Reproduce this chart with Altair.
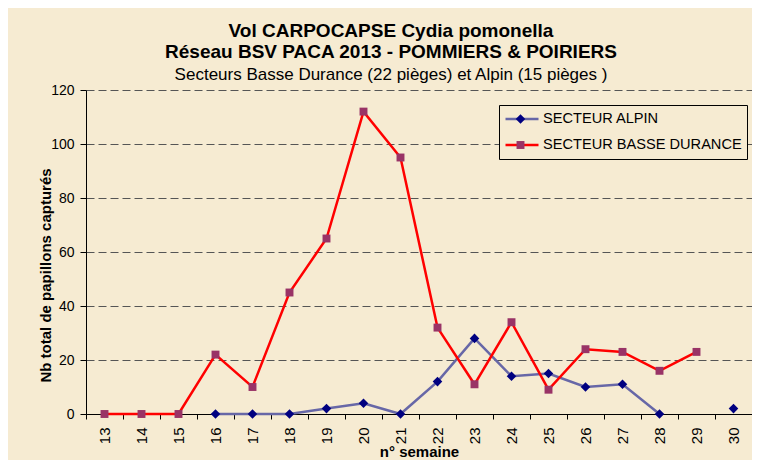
import altair as alt
import pandas as pd

# ---- data ----
weeks = list(range(13, 31))
alpin = [None, None, None, 0, 0, 0, 2, 4, 0, 12, 28, 14, 15, 10, 11, 0, None, 2]
basse_durance = [0, 0, 0, 22, 10, 45, 65, 112, 95, 32, 11, 34, 9, 24, 23, 16, 23, None]
series_names = ["SECTEUR ALPIN", "SECTEUR BASSE DURANCE"]
y_ticks = [0, 20, 40, 60, 80, 100, 120]

# ---- styles ----
line_colors = ["#6767A7", "#FF0000"]
marker_colors = ["#000080", "#993366"]
marker_paths = ["M0,-0.29L0.29,0L0,0.29L-0.29,0Z", "M-0.24,-0.24H0.24V0.24H-0.24Z"]
FONT = "Liberation Sans"
BG = "#F6EBD2"

rows = []
for name, vals in zip(series_names, [alpin, basse_durance]):
    for w, v in zip(weeks, vals):
        rows.append({"semaine": w, "nb": v, "secteur": name, "secteur_pt": name})
df = pd.DataFrame(rows)

x_enc = alt.X(
    "semaine:O",
    bandPosition=0.5,
    scale=alt.Scale(type="band", domain=weeks, paddingInner=0, paddingOuter=0),
    axis=alt.Axis(
        title="n° semaine", titleFontSize=15, titleFontWeight="bold", titleColor="black",
        titlePadding=1,
        labelAngle=-90, labelFontSize=15, labelColor="black", labelPadding=8,
        tickBand="extent", tickSize=5, tickColor="black", domainColor="black",
        grid=False,
    ),
)
y_enc = alt.Y(
    "nb:Q",
    scale=alt.Scale(domain=[0, 120], nice=False),
    axis=alt.Axis(
        values=y_ticks, title="Nb total de papillons capturés",
        titleFontSize=15, titleFontWeight="bold", titleColor="black",
        titleX=-33, titleY=185,
        labelFontSize=14, labelColor="black", labelPadding=6,
        tickSize=6, tickColor="black", domainColor="black",
        grid=True, gridDash=[8, 4], gridColor="#555555", gridWidth=1,
    ),
)

legend_common = dict(
    title=None, orient="none", legendX=413, legendY=15,
    symbolSize=1089, clipHeight=18, rowPadding=8, padding=5,
    labelFontSize=14.6, labelFont=FONT, labelColor="black", labelLimit=320, labelOffset=3,
)

# line legend (explicit domain) and marker legend (data domain) stay separate
# and are drawn on top of each other
lines = alt.Chart(df).mark_line(strokeWidth=2.5, invalid="break-paths-show-domains").encode(
    x=x_enc,
    y=y_enc,
    stroke=alt.Stroke(
        "secteur:N",
        scale=alt.Scale(domain=series_names, range=line_colors),
        legend=alt.Legend(symbolType="stroke", symbolStrokeWidth=2.5, strokeColor="black",
                          fillColor=BG, zindex=0, **legend_common),
    ),
)

pt_legend = alt.Legend(symbolStrokeWidth=0, labelExpr="''", zindex=1, **legend_common)
points = alt.Chart(df).mark_point(filled=True, size=1089, opacity=1, strokeWidth=0).encode(
    x=x_enc,
    y=y_enc,
    fill=alt.Fill("secteur_pt:N", scale=alt.Scale(range=marker_colors), legend=pt_legend),
    shape=alt.Shape("secteur_pt:N", scale=alt.Scale(range=marker_paths), legend=pt_legend),
)

chart = alt.layer(lines, points).properties(
    width=666,
    height=324,
    autosize=alt.AutoSizeParams(type="none"),
    padding={"left": 78, "top": 82, "right": 0, "bottom": 46},
    background=BG,
    title=alt.TitleParams(
        text=["Vol  CARPOCAPSE Cydia pomonella", "Réseau BSV PACA 2013 - POMMIERS & POIRIERS"],
        subtitle="Secteurs Basse Durance (22 pièges) et Alpin (15 pièges )",
        font=FONT, fontSize=19, fontWeight="bold", color="black", lineHeight=21,
        subtitleFont=FONT, subtitleFontSize=17, subtitleColor="black", subtitlePadding=5,
        anchor="middle", frame="group", dx=-28, offset=0,
    ),
).configure(font=FONT).configure_view(strokeWidth=0)

chart.save("out.html", embed_options={"renderer": "svg", "actions": False})
